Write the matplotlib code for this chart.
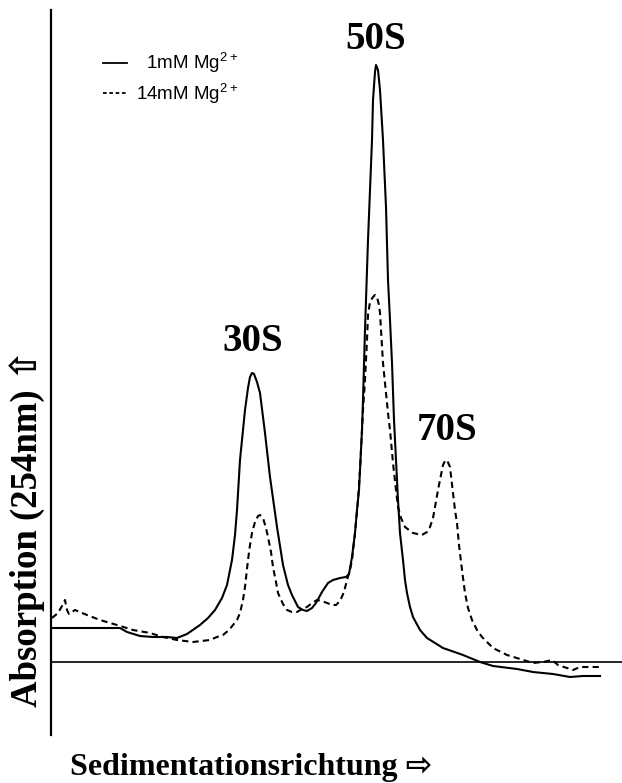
import matplotlib
matplotlib.use("Agg")
import matplotlib.pyplot as plt
from matplotlib.lines import Line2D

plt.rcParams['mathtext.fontset'] = 'custom'
plt.rcParams['mathtext.rm'] = 'Liberation Sans'
plt.rcParams['mathtext.it'] = 'Liberation Sans'

# sedimentation position (arbitrary units) and absorption (arbitrary units, baseline = 0)
x_1mm = [1, 9, 29, 49, 69, 76, 89, 102, 116, 126, 136, 149, 157, 164, 171, 176, 181, 184,
         186, 189, 192, 194, 197, 199, 201, 203, 206, 209, 214, 219, 226, 232, 237, 241,
         247, 252, 256, 261, 265, 271, 277, 282, 289, 295, 298, 301, 304, 306, 308, 309,
         311, 312, 314, 315, 317, 319, 321, 322, 324, 325, 327, 329, 332, 335, 337, 339,
         341, 343, 345, 347, 349, 352, 354, 356, 359, 362, 369, 376, 384, 392, 412, 429,
         442, 466, 482, 502, 519, 532, 549]
y_1mm = [34, 34, 34, 34, 34, 30, 26, 25, 25, 24, 28, 37, 44, 52, 64, 77, 102, 127,
         152, 202, 232, 252, 274, 285, 289, 288, 280, 269, 229, 185, 135, 97, 77, 67,
         55, 52, 51, 54, 59, 70, 79, 82, 84, 85, 88, 105, 129, 152, 172, 192,
         232, 262, 332, 362, 422, 472, 522, 562, 590, 597, 592, 572, 522, 455, 382, 342,
         299, 242, 202, 162, 129, 102, 82, 69, 55, 45, 32, 24, 19, 14, 7, 0,
         -4, -7, -10, -12, -15, -14, -14]

x_14mm = [1, 7, 11, 14, 16, 18, 24, 36, 49, 66, 82, 99, 112, 126, 142, 159, 166, 172,
          178, 182, 186, 189, 192, 194, 197, 199, 201, 204, 207, 209, 212, 215, 217, 220,
          222, 225, 227, 232, 236, 241, 246, 251, 256, 261, 266, 271, 276, 281, 285, 289,
          293, 296, 299, 301, 304, 307, 309, 311, 312, 314, 316, 317, 319, 322, 324, 326,
          328, 329, 332, 337, 339, 342, 345, 347, 350, 354, 362, 371, 376, 379, 382, 384,
          387, 389, 392, 394, 396, 399, 402, 404, 406, 408, 411, 414, 417, 421, 426, 431,
          442, 456, 469, 482, 492, 501, 507, 516, 522, 529, 539, 551]
y_14mm = [44, 49, 56, 62, 52, 48, 52, 47, 42, 37, 32, 29, 25, 22, 20, 22, 25, 27,
          32, 37, 42, 49, 62, 75, 102, 117, 129, 140, 146, 147, 144, 134, 125, 110,
          95, 80, 69, 58, 52, 50, 50, 53, 55, 59, 62, 61, 59, 57, 57, 61,
          70, 82, 92, 102, 129, 162, 192, 232, 252, 282, 322, 347, 360, 365, 367, 365,
          357, 349, 299, 249, 232, 199, 172, 155, 144, 135, 129, 127, 130, 135, 144, 155,
          172, 182, 197, 201, 202, 195, 169, 152, 139, 117, 92, 69, 54, 42, 32, 25,
          14, 7, 3, -1, 0, 2, -3, -6, -8, -5, -5, -5]

peak_names = ['30S', '50S', '70S']
peak_label_x = [202, 325, 396]
peak_label_y = [321, 623, 232]

W, H = 622, 783
fig = plt.figure(figsize=(W / 100, H / 100), dpi=100)
ax = fig.add_axes([51 / W, 48 / H, 571 / W, 725 / H])
ax.set_xlim(0, 571)
ax.set_ylim(-73, 652)

ax.plot(x_1mm, y_1mm, color='black', lw=1.5, solid_joinstyle='round')
ax.plot(x_14mm, y_14mm, color='black', lw=1.5, linestyle=(0, (3, 2)))
ax.axhline(0, color='black', lw=1.2)

for name, px, py in zip(peak_names, peak_label_x, peak_label_y):
    ax.text(px, py, name, ha='center', va='center', fontsize=28,
            fontweight='bold', family='Liberation Serif')

for side in ['top', 'right', 'bottom']:
    ax.spines[side].set_visible(False)
ax.spines['left'].set_linewidth(1.6)
ax.set_xticks([])
ax.set_yticks([])

handles = [Line2D([], [], color='black', lw=1.3),
           Line2D([], [], color='black', lw=1.3, linestyle=(0, (2, 1.5)))]
labels = ['  1mM Mg$^{2+}$', '14mM Mg$^{2+}$']
leg = ax.legend(handles, labels, loc='upper left', frameon=False,
                bbox_to_anchor=(103 / W, 1 - 51 / H), bbox_transform=fig.transFigure,
                borderpad=0, borderaxespad=0, handlelength=1.3, handletextpad=0.45,
                labelspacing=0.35, prop={'family': 'Liberation Sans', 'size': 13.5})

serif = ['Liberation Serif', 'DejaVu Sans']
fig.text(28 / W, 1 - 528 / H, 'Absorption (254nm) \u21e7', rotation=90,
         ha='center', va='center', fontsize=26.5, fontweight='bold', family=serif)
fig.text(251 / W, 1 - 775 / H, 'Sedimentationsrichtung \u21e8', ha='center',
         va='baseline', fontsize=23, fontweight='bold', family=serif)

fig.savefig('out.png', dpi=100)
plt.close(fig)
